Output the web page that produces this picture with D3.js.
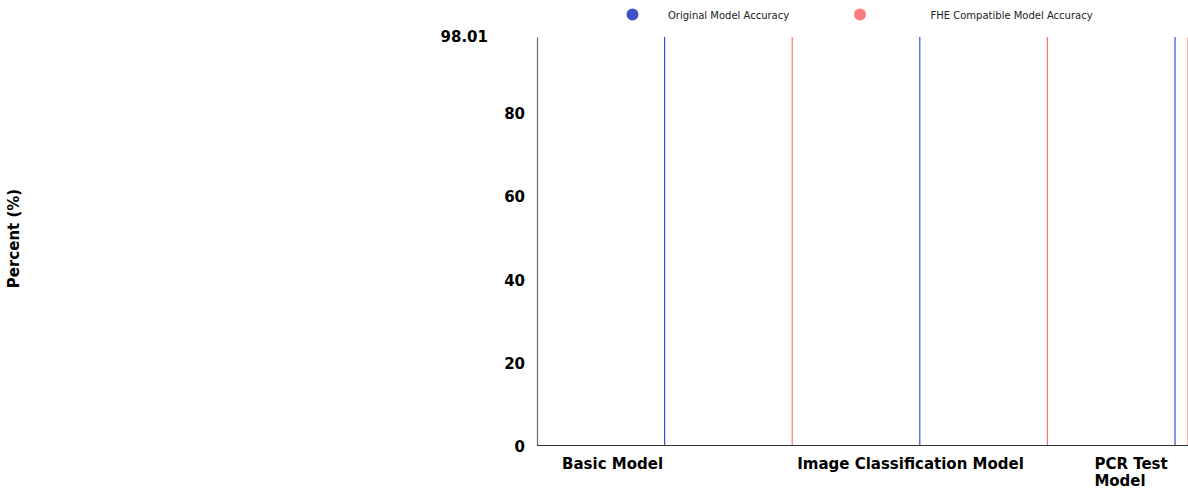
<!DOCTYPE html>
<html>
<head>
<meta charset="utf-8">
<script src="https://cdn.jsdelivr.net/npm/d3@7"></script>
<style>
  html, body { margin: 0; padding: 0; background: #fff; }
  svg { display: block; font-family: "DejaVu Sans", sans-serif; }
</style>
</head>
<body>
<svg id="chart" width="1188" height="491"></svg>
<script>
// ---- data ----
const categories = ["Basic Model", "Image Classification Model", "PCR Test Model"];
const seriesKeys = ["Original Model Accuracy", "FHE Compatible Model Accuracy"];
const originalAccuracy = [98.01, 98.01, 98.01];
const fheAccuracy = [98.01, 98.01, 98.01];
const yTickValues = [0, 20, 40, 60, 80];
const yAxisTitle = "Percent (%)";

// ---- layout ----
const W = 1188, H = 491;
const plotLeft = 537, plotTop = 37, plotBottom = 445;
const subStep = 127.6;
const colors = { "Original Model Accuracy": "#4052c8", "FHE Compatible Model Accuracy": "#ff7b7b" };
const lineColors = { "Original Model Accuracy": "#3c4fd0", "FHE Compatible Model Accuracy": "#f47a7a" };

const svg = d3.select("#chart");

const rows = categories.map((c, i) => ({
  category: c,
  "Original Model Accuracy": originalAccuracy[i],
  "FHE Compatible Model Accuracy": fheAccuracy[i]
}));

const maxVal = d3.max([...originalAccuracy, ...fheAccuracy]);

const x0 = d3.scaleBand()
  .domain(categories)
  .range([plotLeft, plotLeft + subStep * seriesKeys.length * categories.length])
  .padding(0);

const x1 = d3.scaleBand()
  .domain(seriesKeys)
  .range([0, x0.bandwidth()])
  .padding(0);

const y = d3.scaleLinear()
  .domain([0, maxVal])
  .range([plotBottom, plotTop]);

// ---- bars (drawn as thin lines) ----
const groups = svg.append("g").selectAll("g")
  .data(rows)
  .join("g")
  .attr("transform", d => `translate(${x0(d.category)},0)`);

groups.selectAll("line")
  .data(d => seriesKeys.map(k => ({ key: k, value: d[k], gx: x0(d.category) })))
  .join("line")
  .attr("x1", d => Math.min(x1(d.key) + x1.bandwidth(), W - d.gx) )
  .attr("x2", d => Math.min(x1(d.key) + x1.bandwidth(), W - d.gx) )
  .attr("y1", y(0))
  .attr("y2", d => y(d.value))
  .attr("stroke", d => lineColors[d.key])
  .attr("stroke-width", 1.2);

// ---- y axis ----
const yAxis = d3.axisLeft(y)
  .tickValues(yTickValues)
  .tickSize(0)
  .tickPadding(12)
  .tickFormat(d3.format("d"));

const gy = svg.append("g")
  .attr("transform", `translate(${plotLeft},0)`)
  .call(yAxis);
gy.select(".domain").attr("stroke", "#666").attr("stroke-width", 1.2);
gy.selectAll("text")
  .attr("font-family", "DejaVu Sans")
  .attr("font-size", 15)
  .attr("font-weight", "bold")
  .attr("fill", "#000")
  .attr("dy", "0.45em");

// max value label
svg.append("text")
  .attr("x", plotLeft - 49)
  .attr("y", y(maxVal))
  .attr("dy", "0.35em")
  .attr("text-anchor", "end")
  .attr("font-size", 15)
  .attr("font-weight", "bold")
  .text(d3.format(".2f")(maxVal));

// y axis title
svg.append("text")
  .attr("transform", `translate(19,${(plotTop + plotBottom) / 2 - 2.5}) rotate(-90)`)
  .attr("text-anchor", "middle")
  .attr("font-size", 15)
  .attr("font-weight", "bold")
  .text(yAxisTitle);

// ---- x axis ----
svg.append("line")
  .attr("x1", plotLeft)
  .attr("x2", x0.range()[1])
  .attr("y1", y(0) + 0.5)
  .attr("y2", y(0) + 0.5)
  .attr("stroke", "#333")
  .attr("stroke-width", 1.2);

const labelDx = [25, 5, 47];
const lineH = 17;
categories.forEach((c, i) => {
  const lx = x0(c) + labelDx[i];
  const maxW = W - lx;
  const t = svg.append("text")
    .attr("x", lx)
    .attr("y", plotBottom + 24)
    .attr("font-size", 15)
    .attr("font-weight", "bold");
  const words = c.split(" ");
  let line = [];
  let tspan = t.append("tspan").attr("x", lx).attr("dy", 0);
  words.forEach(w => {
    line.push(w);
    tspan.text(line.join(" "));
    if (tspan.node().getComputedTextLength() > maxW && line.length > 1) {
      line.pop();
      tspan.text(line.join(" "));
      line = [w];
      tspan = t.append("tspan").attr("x", lx).attr("dy", lineH).text(w);
    }
  });
});

// ---- legend ----
const legendCircleX = [632.5, 860];
const legendTextX = [668, 930.5];
seriesKeys.forEach((k, i) => {
  svg.append("circle")
    .attr("cx", legendCircleX[i])
    .attr("cy", 14.5)
    .attr("r", 6)
    .attr("fill", colors[k]);
  svg.append("text")
    .attr("x", legendTextX[i])
    .attr("y", 15)
    .attr("dy", "0.35em")
    .attr("font-size", 10)
    .attr("fill", "#222")
    .text(k);
});
</script>
</body>
</html>
